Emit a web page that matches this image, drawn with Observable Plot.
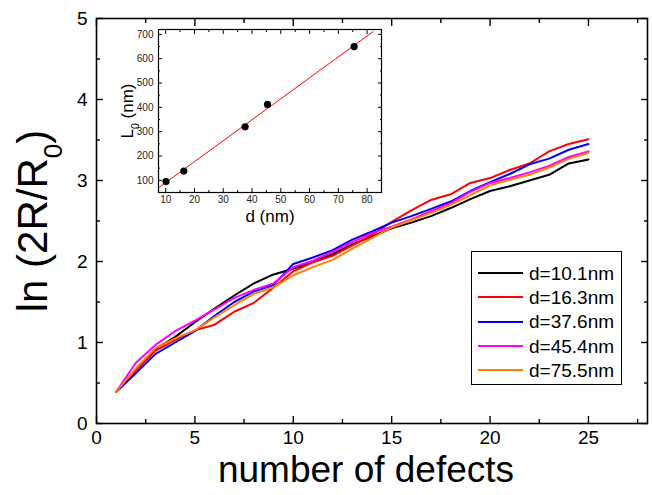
<!DOCTYPE html>
<html>
<head>
<meta charset="utf-8">
<script src="https://cdn.jsdelivr.net/npm/d3@7"></script>
<script src="https://cdn.jsdelivr.net/npm/@observablehq/plot@0.6"></script>
<style>
  body { margin: 0; background: white; }
  #wrap { position: relative; width: 652px; height: 495px; font-family: 'Liberation Sans', Arial, sans-serif; }
  #inset { position: absolute; left: 110px; top: 20px; }
  #legend { position: absolute; left: 471px; top: 251px; width: 149px; height: 123px; border: 1.2px solid #000; background: white; padding-top: 9px; box-sizing: content-box; }
  .row { display: flex; align-items: center; height: 24.3px; padding-left: 6px; }
  .row svg { display: block; }
  .row span { margin-left: 6px; font-size: 19px; color: #000; line-height: 1; }
</style>
</head>
<body>
<div id="wrap"></div>
<script>
// ---- main chart data ----
const defects = [1,2,3,4,5,6,7,8,9,10,11,12,13,14,15,16,17,18,19,20,21,22,23,24,25];
const seriesNames = ["d=10.1nm","d=16.3nm","d=37.6nm","d=45.4nm","d=75.5nm"];
const seriesColors = ["#000000","#ff0000","#0000ff","#ff00ff","#ff8000"];
const d101 = [0.39,0.65,0.92,1.07,1.25,1.42,1.58,1.73,1.84,1.91,2.00,2.09,2.21,2.31,2.41,2.48,2.56,2.66,2.77,2.87,2.93,3.00,3.07,3.21,3.26];
const d163 = [0.39,0.65,0.90,1.03,1.15,1.22,1.38,1.49,1.68,1.88,1.99,2.07,2.20,2.33,2.49,2.63,2.76,2.83,2.97,3.03,3.13,3.21,3.36,3.45,3.51];
const d376 = [0.39,0.62,0.86,1.00,1.14,1.33,1.50,1.63,1.71,1.97,2.05,2.14,2.27,2.37,2.48,2.56,2.65,2.74,2.87,2.98,3.08,3.20,3.27,3.38,3.45];
const d454 = [0.39,0.75,0.97,1.14,1.27,1.41,1.55,1.65,1.73,1.93,2.01,2.12,2.24,2.35,2.43,2.52,2.62,2.72,2.86,2.97,3.03,3.10,3.18,3.29,3.36];
const d755 = [0.39,0.68,0.93,1.05,1.15,1.31,1.46,1.60,1.68,1.83,1.93,2.02,2.16,2.29,2.42,2.51,2.60,2.70,2.82,2.94,3.01,3.07,3.16,3.27,3.34];
const xMajor = [0,5,10,15,20,25];
const xMinor = [2.5,7.5,12.5,17.5,22.5,27.5];
const yMajor = [0,1,2,3,4,5];
const yMinor = [0.5,1.5,2.5,3.5,4.5];
const xTitle = "number of defects";
const yTitle = "ln (2R/R0)";

// ---- inset data ----
const dVals = [10.1,16.3,37.6,45.4,75.5];
const L0Vals = [95,138,320,412,650];
const fitRange = [7.5,82];
const insetXMajor = [10,20,30,40,50,60,70,80];
const insetXMinor = [15,25,35,45,55,65,75,85];
const insetYMajor = [100,200,300,400,500,600,700];
const insetYMinor = [150,250,350,450,550,650];

const allSeries = [d101,d163,d376,d454,d755];
const tidy = allSeries.flatMap((vals, si) => vals.map((v, i) => ({x: defects[i], y: v, s: seriesNames[si]})));

const font = "'Liberation Sans', Arial, sans-serif";
const blank = () => "";

function ticks4(xMaj, xMin, yMaj, yMin, big, small, sw) {
  return [
    Plot.axisX({ticks: xMaj, tickSize: big, dy: -big, tickFormat: blank, label: null, strokeWidth: sw}),
    Plot.axisX({anchor: "top", ticks: xMaj, tickSize: big, dy: big, tickFormat: blank, label: null, strokeWidth: sw}),
    Plot.axisX({ticks: xMin, tickSize: small, dy: -small, tickFormat: blank, label: null, strokeWidth: sw}),
    Plot.axisX({anchor: "top", ticks: xMin, tickSize: small, dy: small, tickFormat: blank, label: null, strokeWidth: sw}),
    Plot.axisY({ticks: yMaj, tickSize: big, dx: big, tickFormat: blank, label: null, strokeWidth: sw}),
    Plot.axisY({anchor: "right", ticks: yMaj, tickSize: big, dx: -big, tickFormat: blank, label: null, strokeWidth: sw}),
    Plot.axisY({ticks: yMin, tickSize: small, dx: small, tickFormat: blank, label: null, strokeWidth: sw}),
    Plot.axisY({anchor: "right", ticks: yMin, tickSize: small, dx: -small, tickFormat: blank, label: null, strokeWidth: sw})
  ];
}

const main = Plot.plot({
  width: 652, height: 495,
  marginLeft: 96, marginRight: 5, marginTop: 18, marginBottom: 72,
  style: {fontFamily: font, background: "white", color: "black"},
  x: {domain: [0, 28]},
  y: {domain: [0, 5]},
  color: {domain: seriesNames, range: seriesColors},
  marks: [
    Plot.lineY(tidy, {x: "x", y: "y", z: "s", stroke: "s", strokeWidth: 2}),
    Plot.frame({stroke: "black", strokeWidth: 1.6}),
    ...ticks4(xMajor, xMinor, yMajor, yMinor, 7, 4, 1.4),
    Plot.axisX({ticks: xMajor, tickSize: 0, tickPadding: 7, fontSize: 19, label: null, tickFormat: d => String(d)}),
    Plot.axisY({ticks: yMajor, tickSize: 0, tickPadding: 9, fontSize: 19, label: null, tickFormat: d => String(d)}),
    Plot.text([xTitle], {frameAnchor: "bottom", textAnchor: "middle", dy: 58, dx: -6, fontSize: 37, text: d => d}),
    Plot.text([yTitle], {frameAnchor: "left", textAnchor: "middle", dx: -63, rotate: -90, fontSize: 42, text: d => d})
  ]
});

// inset regression from data
const mx = d3.mean(dVals), my = d3.mean(L0Vals);
const slope = d3.sum(dVals, (d, i) => (d - mx) * (L0Vals[i] - my)) / d3.sum(dVals, d => (d - mx) ** 2);
const intercept = my - slope * mx;
const fit = fitRange.map(x => ({x, y: intercept + slope * x}));
const pts = dVals.map((d, i) => ({x: d, y: L0Vals[i]}));

const inset = Plot.plot({
  width: 280, height: 215,
  marginLeft: 48, marginRight: 9, marginTop: 9, marginBottom: 43,
  style: {fontFamily: font, background: "transparent", color: "black"},
  x: {domain: [7.5, 85]},
  y: {domain: [50, 720]},
  marks: [
    Plot.line(fit, {x: "x", y: "y", stroke: "#ff0000", strokeWidth: 1}),
    Plot.dot(pts, {x: "x", y: "y", r: 3.6, fill: "black", stroke: "none"}),
    Plot.frame({stroke: "black", strokeWidth: 1.2}),
    ...ticks4(insetXMajor, insetXMinor, insetYMajor, insetYMinor, 4, 2, 1),
    Plot.axisX({ticks: insetXMajor, tickSize: 0, tickPadding: 3, fontSize: 10, fill: "#222", label: null, tickFormat: d => String(d)}),
    Plot.axisY({ticks: insetYMajor, tickSize: 0, tickPadding: 5, fontSize: 10, fill: "#222", label: null, tickFormat: d => String(d)}),
    Plot.text(["d (nm)"], {frameAnchor: "bottom", textAnchor: "middle", dy: 29, fontSize: 17, text: d => d}),
    Plot.text(["L0 (nm)"], {frameAnchor: "left", textAnchor: "middle", dx: -31, rotate: -90, fontSize: 17, text: d => d})
  ]
});
inset.id = "inset";

function subscriptZero(svg, label) {
  d3.select(svg).selectAll("text").filter(function() { return this.textContent === label; })
    .each(function() {
      const t = d3.select(this);
      const i = label.indexOf("0");
      t.text(null);
      t.append("tspan").text(label.slice(0, i));
      t.append("tspan").attr("baseline-shift", "sub").attr("font-size", "0.62em").text("0");
      t.append("tspan").text(label.slice(i + 1));
    });
}
subscriptZero(main, yTitle);
subscriptZero(inset, "L0 (nm)");

const wrap = document.getElementById("wrap");
wrap.appendChild(main);
wrap.appendChild(inset);

// legend
const legend = document.createElement("div");
legend.id = "legend";
seriesNames.forEach((name, i) => {
  const row = document.createElement("div");
  row.className = "row";
  row.innerHTML = `<svg width="45" height="4"><line x1="0" x2="45" y1="2" y2="2" stroke="${seriesColors[i]}" stroke-width="2"/></svg><span>${name}</span>`;
  legend.appendChild(row);
});
wrap.appendChild(legend);
</script>
</body>
</html>
